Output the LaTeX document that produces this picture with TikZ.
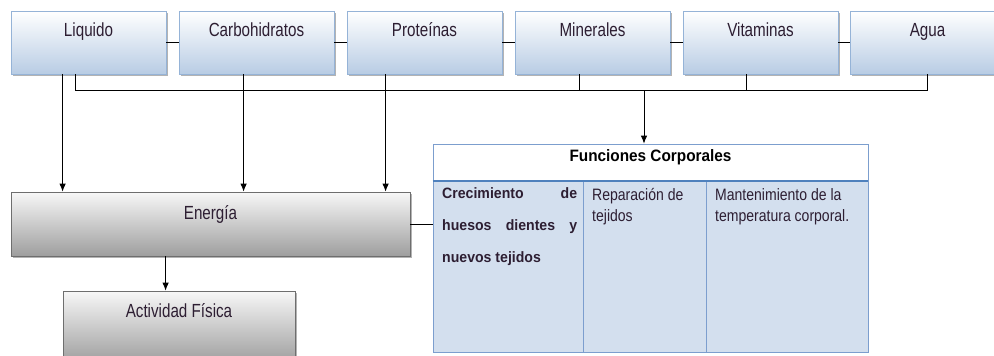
\documentclass[tikz,border=0pt]{standalone}
\usepackage{fontspec}
\setmainfont{Liberation Sans}
\usetikzlibrary{shadows,calc,arrows.meta}
\newcommand{\narrowtxt}[2]{\scalebox{#1}[1]{#2}}
\definecolor{boxblueB}{RGB}{184,204,228}
\definecolor{boxborder}{RGB}{149,179,215}
\definecolor{grayB}{RGB}{158,158,158}
\definecolor{grayborder}{RGB}{110,110,110}
\definecolor{cellfill}{RGB}{211,223,238}
\definecolor{tabborder}{RGB}{124,158,206}
\definecolor{tabline}{RGB}{79,129,189}
\definecolor{txtdark}{RGB}{45,30,50}
\begin{document}
\begin{tikzpicture}[x=1pt,y=-1pt,
  topbox/.style={draw=boxborder, line width=0.8pt, top color=white, bottom color=boxblueB,
    minimum width=155pt, minimum height=63pt, inner sep=0pt,
    drop shadow={shadow xshift=2pt, shadow yshift=-2pt, fill=black!50, opacity=0.6}},
  graybox/.style={draw=grayborder, line width=0.8pt, top color=black!3, bottom color=grayB,
    inner sep=0pt,
    drop shadow={shadow xshift=2pt, shadow yshift=-2pt, fill=black!50, opacity=0.6}},
  lbl/.style={font=\fontsize{19}{22}\selectfont, text=txtdark, inner sep=0pt, anchor=base},
  cell/.style={draw=tabborder, line width=0.8pt, fill=cellfill, inner sep=0pt, minimum height=171pt},
  ctext/.style={text=txtdark, inner sep=0pt, anchor=base west},
  link/.style={draw=black, line width=0.8pt},
  arr/.style={link, -{Latex[length=8pt,width=6.5pt]}}
]
\clip (0,0) rectangle (994,356);
\useasboundingbox (0,0) rectangle (994,356);

% top boxes
\node[topbox] (liq)  at (88.5,42.5) {};
\node[topbox] (carb) at (256.5,42.5) {};
\node[topbox] (prot) at (424.5,42.5) {};
\node[topbox] (min)  at (592.5,42.5) {};
\node[topbox] (vit)  at (760.5,42.5) {};
\node[topbox] (agua) at (927.5,42.5) {};

\node[lbl] (liqt)  at ([yshift=-26pt]liq.north)  {\narrowtxt{0.8}{Liquido}};
\node[lbl] (carbt) at ([yshift=-26pt]carb.north) {\narrowtxt{0.8}{Carbohidratos}};
\node[lbl] (prott) at ([yshift=-26pt]prot.north) {\narrowtxt{0.8}{Proteínas}};
\node[lbl] (mint)  at ([yshift=-26pt]min.north)  {\narrowtxt{0.8}{Minerales}};
\node[lbl] (vitt)  at ([yshift=-26pt]vit.north)  {\narrowtxt{0.8}{Vitaminas}};
\node[lbl] (aguat) at ([yshift=-26pt]agua.north) {\narrowtxt{0.8}{Agua}};

% links between top boxes
\draw[link] (liq.east) -- (carb.west);
\draw[link] (carb.east) -- (prot.west);
\draw[link] (prot.east) -- (min.west);
\draw[link] (min.east) -- (vit.west);
\draw[link] (vit.east) -- (agua.west);

% Energia and Actividad
\node[graybox, minimum width=399pt, minimum height=64pt] (energ) at (210.5,224) {};
\node[lbl] (energt) at ([yshift=-28pt]energ.north) {\narrowtxt{0.8}{Energía}};
\node[graybox, minimum width=232pt, minimum height=72pt] (act) at (179,327) {};
\node[lbl] (actt) at ([yshift=-27pt]act.north) {\narrowtxt{0.8}{Actividad Física}};

% table
\node[draw=tabborder, line width=0.8pt, fill=white, minimum width=435pt, minimum height=37pt, inner sep=0pt] (funch) at (650.5,162.5) {};
\node[font=\bfseries\fontsize{16.5}{20}\selectfont, inner sep=0pt, anchor=base] (funct) at ([yshift=-18pt]funch.north) {\narrowtxt{0.93}{Funciones Corporales}};
\node[cell, minimum width=150pt] (c1) at (508,266.5) {};
\node[cell, minimum width=123pt] (c2) at (644.5,266.5) {};
\node[cell, minimum width=162pt] (c3) at (787,266.5) {};
\draw[tabline, line width=2pt] (funch.south west) -- (funch.south east);

\node[ctext] (c1t) at (442,198) {\narrowtxt{0.94}{\parbox[t]{143.6pt}{\fontsize{15}{32}\selectfont\bfseries\parindent=0pt
  \hbox to 143.6pt{Crecimiento\hfill de}\par
  \hbox to 143.6pt{huesos\hfill dientes\hfill y}\par
  \hbox{nuevos tejidos}}}};
\node[ctext] (c2t) at (592,200) {\narrowtxt{0.85}{\parbox[t]{130pt}{\fontsize{16.5}{21}\selectfont\raggedright
  Reparación de\\tejidos}}};
\node[ctext] (c3t) at (715,200) {\narrowtxt{0.85}{\parbox[t]{175pt}{\fontsize{16.5}{21}\selectfont\raggedright
  Mantenimiento de la\\temperatura corporal.}}};

% connectors
\coordinate (p1) at ($(liq.south west)+(52,0)$);
\coordinate (p2) at ($(carb.south west)+(65,0)$);
\coordinate (p3) at ($(prot.south west)+(39,0)$);
\draw[arr] (p1) -- (p1 |- energ.north);
\draw[arr] (p2) -- (p2 |- energ.north);
\draw[arr] (p3) -- (p3 |- energ.north);

\coordinate (b0) at ($(liq.south west)+(65,0)$);
\coordinate (bus) at ($(agua.south)+(0,16)$);
\draw[link] (b0) |- (bus) -- (agua.south);
\coordinate (m1) at ($(min.south west)+(65,0)$);
\coordinate (v1) at ($(vit.south west)+(64,0)$);
\draw[link] (m1) -- (m1 |- bus);
\draw[link] (v1) -- (v1 |- bus);
\coordinate (d1) at (644,0);
\draw[arr] (d1 |- bus) -- (d1 |- funch.north);

\draw[link] (energ.east) -- (energ.east -| c1.west);
\coordinate (e1) at ($(energ.south west)+(155,0)$);
\draw[arr] (e1) -- (e1 |- act.north);
\end{tikzpicture}
\end{document}
